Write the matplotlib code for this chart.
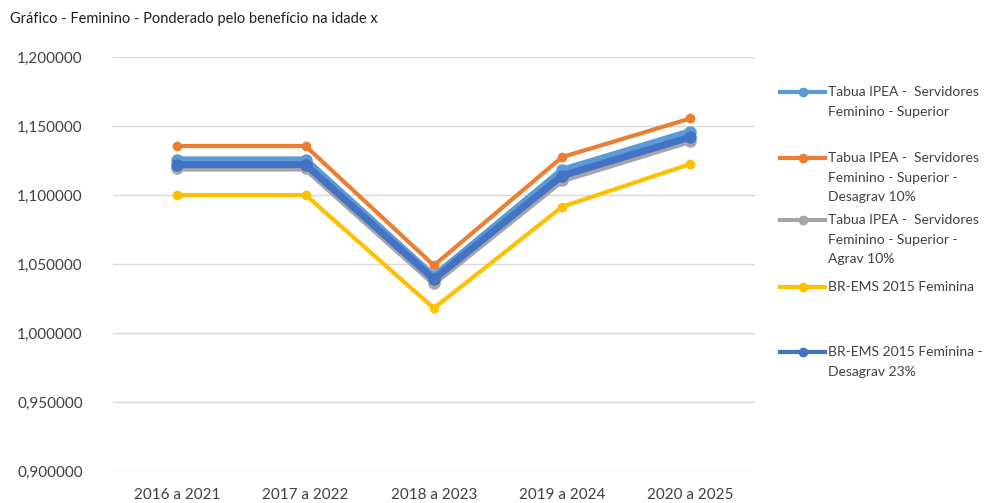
import matplotlib
matplotlib.use("Agg")
import matplotlib.pyplot as plt
from matplotlib.lines import Line2D
from matplotlib.ticker import FuncFormatter

plt.rcParams['font.family'] = ['Lato', 'DejaVu Sans']

periods = ["2016 a 2021", "2017 a 2022", "2018 a 2023", "2019 a 2024", "2020 a 2025"]

ipea_sup = [1.1255, 1.1255, 1.0410, 1.1180, 1.1460]
ipea_sup_desagrav10 = [1.1355, 1.1355, 1.0490, 1.1275, 1.1555]
ipea_sup_agrav10 = [1.1195, 1.1195, 1.0365, 1.1110, 1.1395]
brems_fem = [1.1000, 1.1000, 1.0180, 1.0915, 1.1225]
brems_fem_desagrav23 = [1.1220, 1.1220, 1.0390, 1.1140, 1.1420]

series = [
    ("Tabua IPEA -  Servidores\nFeminino - Superior", ipea_sup, "#5B9BD5", 5),
    ("Tabua IPEA -  Servidores\nFeminino - Superior -\nDesagrav 10%", ipea_sup_desagrav10, "#ED7D31", 3),
    ("Tabua IPEA -  Servidores\nFeminino - Superior -\nAgrav 10%", ipea_sup_agrav10, "#A5A5A5", 5),
    ("BR-EMS 2015 Feminina", brems_fem, "#FFC000", 3),
    ("BR-EMS 2015 Feminina -\nDesagrav 23%", brems_fem_desagrav23, "#4472C4", 5),
]

fig = plt.figure(figsize=(10.02, 5.03), dpi=100)
ax = fig.add_axes([0.113, 0.0636, 0.640, 0.823])

x = list(range(len(periods)))
for label, vals, color, lw in series:
    ax.plot(x, vals, color=color, lw=lw, marker='o', ms=lw + 3,
            solid_joinstyle='round', label=label)

ax.set_xlim(-0.5, len(periods) - 0.5)
ax.set_ylim(0.9, 1.2)
ax.set_yticks([0.90, 0.95, 1.00, 1.05, 1.10, 1.15, 1.20])
ax.yaxis.set_major_formatter(FuncFormatter(lambda v, p: f"{v:.6f}".replace('.', ',')))
ax.set_xticks(x)
ax.set_xticklabels(periods)
ax.grid(axis='y', color='#D9D9D9', lw=1)
ax.set_axisbelow(True)
for s in ax.spines.values():
    s.set_visible(False)
ax.tick_params(length=0, labelsize=11, colors='#404040')
ax.tick_params(axis='y', pad=22)
ax.tick_params(axis='x', pad=12)

fig.text(0.010, 0.963, "Gráfico - Feminino - Ponderado pelo benefício na idade x",
         fontsize=10.5, color='#202020', va='center')

# legend drawn by hand so each handle sits on the first text line
leg_y = [92, 158, 220, 287, 352]
for (label, vals, color, lw), yy in zip(series, leg_y):
    fy = 1 - yy / 503
    fig.add_artist(Line2D([780 / 1002, 825 / 1002], [fy, fy], color=color, lw=3,
                          transform=fig.transFigure))
    fig.add_artist(Line2D([802.5 / 1002], [fy], color=color, marker='o', ms=6,
                          transform=fig.transFigure))
    fig.text(828 / 1002, fy + 0.011, label, fontsize=10, color='#404040',
             va='top', linespacing=1.75)

fig.savefig("out.png", dpi=100)
